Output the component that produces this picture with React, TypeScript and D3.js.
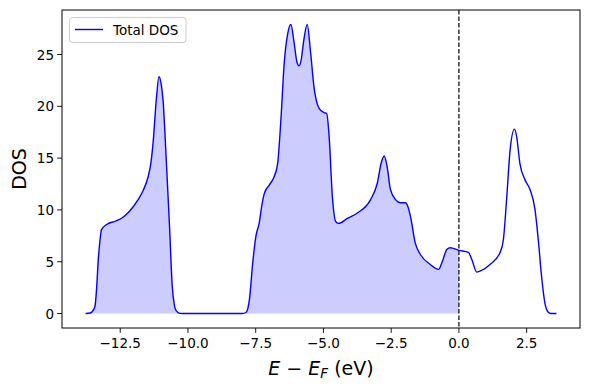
import React from "react";
import * as d3 from "d3";

const energy = [
  -13.78, -13.6, -13.5, -13.43, -13.37, -13.31, -13.25, -13.19, -13.0, -12.7, -12.45, -12.15, -11.84, -11.65,
  -11.47, -11.37, -11.29, -11.17, -11.07, -10.98, -10.92, -10.8, -10.68, -10.58, -10.5, -10.43, -10.3, -10.1,
  -8.0, -7.86, -7.79, -7.73, -7.61, -7.49, -7.37, -7.27, -7.18, -7.0, -6.82, -6.69, -6.57, -6.45, -6.32, -6.2,
  -6.08, -5.98, -5.9, -5.82, -5.74, -5.6, -5.47, -5.35, -5.16, -4.98, -4.88, -4.79, -4.67, -4.55, -4.45, -4.1,
  -3.75, -3.26, -3.01, -2.87, -2.76, -2.65, -2.53, -2.34, -2.16, -1.97, -1.91, -1.79, -1.61, -1.42, -1.06,
  -0.75, -0.63, -0.44, -0.32, 0, 0.35, 0.48, 0.66, 0.78, 1.15, 1.52, 1.64, 1.76, 1.89, 2.05, 2.13, 2.25, 2.44,
  2.62, 2.81, 2.93, 3.05, 3.17, 3.29, 3.4, 3.6,
];
const dos = [
  0, 0.05, 0.3, 0.73, 2.5, 5.2, 7.0, 8.1, 8.6, 8.9, 9.2, 9.9, 11.0, 11.9,
  13.2, 14.5, 16.4, 20.6, 22.85, 22.0, 20.6, 14.8, 8.4, 2.65, 0.8, 0.25, 0.02, 0,
  0, 0.1, 0.5, 1.4, 4.9, 7.5, 8.75, 10.5, 11.6, 12.4, 13.2, 14.5, 18.7, 24.1, 27.0, 27.9,
  26.1, 24.3, 23.9, 24.5, 26.1, 27.9, 25.1, 21.9, 19.8, 19.4, 19.3, 17.1, 11.3, 8.9, 8.7, 9.2,
  9.7, 11.0, 12.6, 14.5, 15.2, 14.2, 12.0, 11.0, 10.7, 10.7, 10.5, 9.4, 6.8, 5.7, 4.74,
  4.26, 4.9, 6.2, 6.35, 6.1, 5.9, 5.2, 4.0, 4.1, 4.74, 5.9, 7.1, 11.0, 15.8, 17.8, 17.1, 14.5, 12.9,
  12.0, 10.0, 7.1, 3.6, 1.06, 0.15, 0, 0,
];
const xTicks = [-12.5, -10.0, -7.5, -5.0, -2.5, 0.0, 2.5];
const yTicks = [0, 5, 10, 15, 20, 25];
const legendLabel = "Total DOS";
const yLabel = "DOS";

export default function App() {
  const W = 590, H = 390;
  const left = 62, right = 580, top = 10, bottom = 328;
  const points = energy.map((e, i) => ({ e, d: dos[i] }));
  const xmin = d3.min(energy)!, xmax = d3.max(energy)!;
  const xr = xmax - xmin;
  const ymax = d3.max(dos)!;
  const x = d3.scaleLinear().domain([xmin - 0.05 * xr, xmax + 0.05 * xr]).range([left, right]);
  const y = d3.scaleLinear().domain([-0.05 * ymax, ymax * 1.05]).range([bottom, top]);
  const line = d3.line<{ e: number; d: number }>().x((p) => x(p.e)).y((p) => y(p.d)).curve(d3.curveMonotoneX);
  const area = d3
    .area<{ e: number; d: number }>()
    .x((p) => x(p.e))
    .y0(y(0))
    .y1((p) => y(p.d))
    .curve(d3.curveMonotoneX);
  const filled = points.filter((p) => p.e <= 0);
  const fmtMinus = (s: string) => s.replace("-", "\u2212");
  const font = "DejaVu Sans, sans-serif";
  return (
    <svg width={W} height={H} style={{ position: "absolute", left: 0, top: 0 }} fontFamily={font}>
      <rect width={W} height={H} fill="white" />
      <path d={area(filled)!} fill="#0000ff" fillOpacity={0.2} stroke="none" />
      <path d={line(points)!} fill="none" stroke="#0000ff" strokeWidth={1.4} />
      <line x1={x(0)} x2={x(0)} y1={top} y2={bottom} stroke="black" strokeWidth={1.2} strokeDasharray="4.5,2" />
      <rect x={left} y={top} width={right - left} height={bottom - top} fill="none" stroke="black" strokeWidth={1} />
      {xTicks.map((t) => (
        <g key={t}>
          <line x1={x(t)} x2={x(t)} y1={bottom} y2={bottom + 4.9} stroke="black" strokeWidth={0.9} />
          <text x={x(t)} y={bottom + 20} textAnchor="middle" fontSize={13.5} fill="black">
            {fmtMinus(t.toFixed(1))}
          </text>
        </g>
      ))}
      {yTicks.map((t) => (
        <g key={t}>
          <line x1={left - 4.9} x2={left} y1={y(t)} y2={y(t)} stroke="black" strokeWidth={0.9} />
          <text x={left - 8} y={y(t) + 5} textAnchor="end" fontSize={13.5} fill="black">
            {t}
          </text>
        </g>
      ))}
      <text x={(left + right) / 2} y={375} textAnchor="middle" fontSize={19} fill="black">
        <tspan fontStyle="italic">E</tspan>
        <tspan> − </tspan>
        <tspan fontStyle="italic">E</tspan>
        <tspan fontStyle="italic" fontSize={13.5} dy={3}>F</tspan>
        <tspan dy={-3}> (eV)</tspan>
      </text>
      <text transform={`translate(26,${(top + bottom) / 2}) rotate(-90)`} textAnchor="middle" fontSize={19} fill="black">
        {yLabel}
      </text>
      <g>
        <rect x={69.5} y={17.5} width={116.5} height={25} rx={3} fill="white" fillOpacity={0.8} stroke="#cccccc" strokeWidth={1} />
        <line x1={75} x2={103} y1={29.5} y2={29.5} stroke="#0000ff" strokeWidth={1.4} />
        <text x={113} y={34.5} fontSize={13.5} fill="black">
          {legendLabel}
        </text>
      </g>
    </svg>
  );
}
